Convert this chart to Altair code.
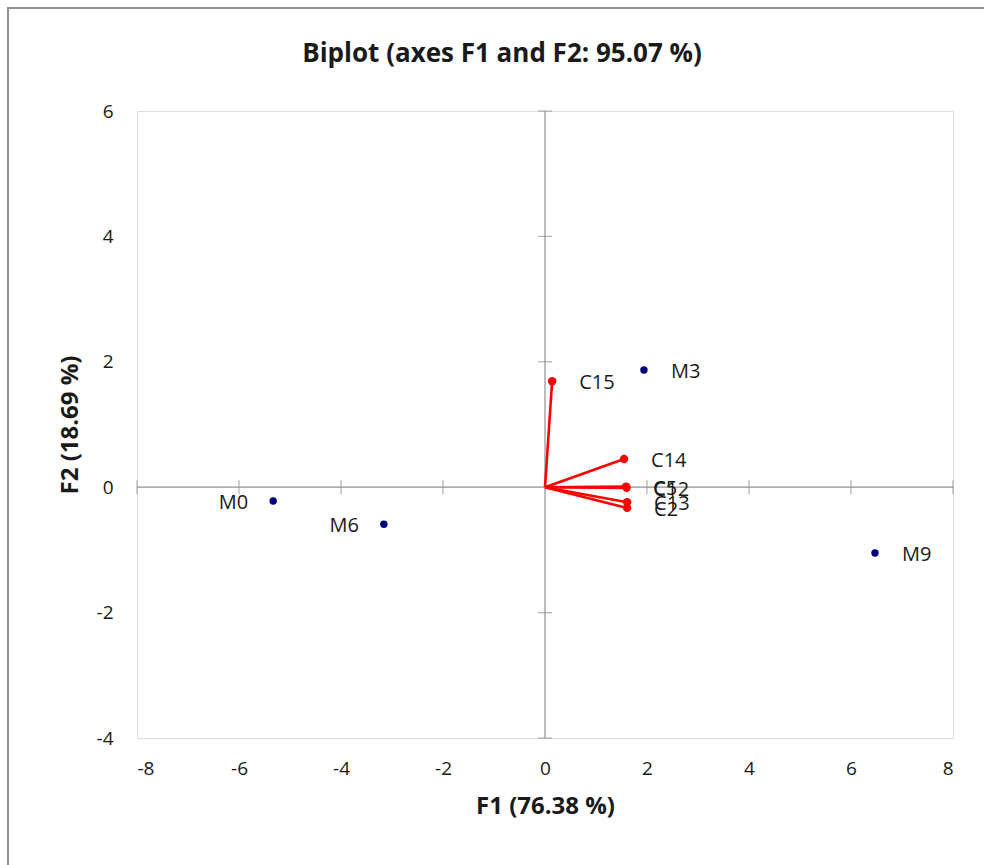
import altair as alt
import pandas as pd

# Observations (navy dots)
obs_names = ["M0", "M6", "M3", "M9"]
obs_f1 = [-5.33, -3.16, 1.94, 6.47]
obs_f2 = [-0.22, -0.59, 1.87, -1.05]
obs_side = ["left", "left", "right", "right"]

# Variables (red vectors)
var_names = ["C15", "C14", "C5", "C12", "C13", "C2"]
var_f1 = [0.14, 1.55, 1.59, 1.60, 1.61, 1.61]
var_f2 = [1.69, 0.45, 0.01, -0.01, -0.24, -0.33]

x_ticks = [-8, -6, -4, -2, 0, 2, 4, 6, 8]
y_ticks = [-4, -2, 0, 2, 4, 6]

FONT = "Open Sans"
GRAY = "#8f8f8f"
TXT = "#1a1a1a"

obs = pd.DataFrame({"name": obs_names, "f1": obs_f1, "f2": obs_f2, "side": obs_side})
var = pd.DataFrame({"name": var_names, "f1": var_f1, "f2": var_f2,
                    "o1": [0] * len(var_names), "o2": [0] * len(var_names)})
xt = pd.DataFrame({"v": [t for t in x_ticks if t != 0], "z": 0})
yt = pd.DataFrame({"v": [t for t in y_ticks if t != 0], "z": 0})

xs = alt.Scale(domain=[-8, 8], nice=False, zero=False)
ys = alt.Scale(domain=[-4, 6], nice=False, zero=False)

xaxis = alt.Axis(values=x_ticks, grid=False, ticks=False, domain=False,
                 labelExpr="'' + datum.value",
                 labelPadding=21, labelFontSize=19, labelFont=FONT, labelColor=TXT,
                 title="F1 (76.38 %)", titleFontSize=24, titleFont=FONT, titleFontWeight="bold",
                 titlePadding=16, titleColor=TXT)
yaxis = alt.Axis(values=y_ticks, grid=False, ticks=False, domain=False,
                 labelExpr="'' + datum.value",
                 labelPadding=24, labelFontSize=19, labelFont=FONT, labelColor=TXT,
                 title="F2 (18.69 %)", titleFontSize=24, titleFont=FONT, titleFontWeight="bold",
                 titlePadding=14, titleColor=TXT)

base_x = alt.X("f1:Q", scale=xs, axis=xaxis)
base_y = alt.Y("f2:Q", scale=ys, axis=yaxis)

frame = alt.Chart(pd.DataFrame({"a": [0]})).mark_rect(
    fillOpacity=0, stroke=GRAY, strokeWidth=2
).encode(x=alt.value(-129), x2=alt.value(870), y=alt.value(-103), y2=alt.value(780))

hzero = alt.Chart(pd.DataFrame({"z": [0]})).mark_rule(color=GRAY, strokeWidth=1.2).encode(
    y=alt.Y("z:Q", scale=ys, axis=yaxis))
vzero = alt.Chart(pd.DataFrame({"z": [0]})).mark_rule(color=GRAY, strokeWidth=1.2).encode(
    x=alt.X("z:Q", scale=xs, axis=xaxis))

xtick_marks = alt.Chart(xt).mark_tick(orient="vertical", size=14, thickness=1.2, color=GRAY).encode(
    x=alt.X("v:Q", scale=xs, axis=xaxis), y=alt.Y("z:Q", scale=ys, axis=yaxis))
ytick_marks = alt.Chart(yt).mark_tick(orient="horizontal", size=14, thickness=1.2, color=GRAY).encode(
    x=alt.X("z:Q", scale=xs, axis=xaxis), y=alt.Y("v:Q", scale=ys, axis=yaxis))

vec = alt.Chart(var).mark_rule(color="#ff0000", strokeWidth=2.6).encode(
    x=alt.X("o1:Q", scale=xs, axis=xaxis), y=alt.Y("o2:Q", scale=ys, axis=yaxis),
    x2="f1:Q", y2="f2:Q")
vec_pts = alt.Chart(var).mark_circle(color="#ff0000", size=70, opacity=1).encode(x=base_x, y=base_y)
vec_lbl = alt.Chart(var).mark_text(align="left", dx=27, dy=2, fontSize=20, font=FONT, color=TXT).encode(
    x=base_x, y=base_y, text="name:N")

obs_pts = alt.Chart(obs).mark_circle(color="#000080", size=55, opacity=1).encode(x=base_x, y=base_y)
obs_lbl_r = alt.Chart(obs).transform_filter(alt.datum.side == "right").mark_text(
    align="left", dx=27, dy=2, fontSize=20, font=FONT, color=TXT).encode(
    x=base_x, y=base_y, text="name:N")
obs_lbl_l = alt.Chart(obs).transform_filter(alt.datum.side == "left").mark_text(
    align="right", dx=-25, dy=2, fontSize=20, font=FONT, color=TXT).encode(
    x=base_x, y=base_y, text="name:N")

chart = alt.layer(
    frame, hzero, vzero, xtick_marks, ytick_marks, vec, vec_pts, vec_lbl,
    obs_pts, obs_lbl_r, obs_lbl_l
).properties(
    width=816, height=627,
    title=alt.TitleParams("Biplot (axes F1 and F2: 95.07 %)", fontSize=26, font=FONT,
                          fontWeight="bold", color=TXT, offset=-60, dx=-43, anchor="middle",
                          frame="group"),
    autosize=alt.AutoSizeParams(type="none"),
    padding={"left": 137, "top": 111, "right": 31, "bottom": 127},
).configure_view(stroke="#a0a0a0", strokeWidth=1.5).configure(background="white")

chart.save("out.html", embed_options={"renderer": "svg", "actions": False})
